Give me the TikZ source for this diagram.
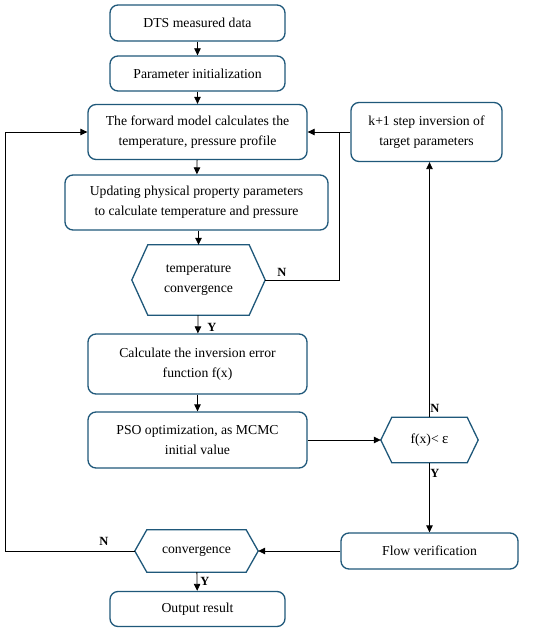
\documentclass[tikz,border=0pt]{standalone}
\usepackage{fontspec}
\setmainfont{Liberation Serif}
\usetikzlibrary{arrows.meta,calc}
\definecolor{boxblue}{RGB}{31,88,122}
\tikzset{
  box/.style={draw=boxblue, line width=1.3pt, rounded corners=8pt, fill=white,
    align=center, inner sep=0pt, font=\fontsize{13.7}{20}\selectfont},
  hexnode/.style={inner sep=0pt, align=center, font=\fontsize{13.7}{20}\selectfont},
  hexline/.style={draw=boxblue, line width=1.3pt, line join=miter},
  arr/.style={line width=0.8pt, -{Triangle[length=7pt,width=6.5pt]}},
  ln/.style={line width=0.8pt},
  lab/.style={font=\fontsize{12.5}{14}\selectfont\bfseries, inner sep=0pt},
}
\newcommand{\hexdraw}[2]{%
  \draw[hexline] (#1.west) -- ($(#1.north west)+(#2,0)$) -- ($(#1.north east)+(-#2,0)$)
    -- (#1.east) -- ($(#1.south east)+(-#2,0)$) -- ($(#1.south west)+(#2,0)$) -- cycle;}
\begin{document}
\begin{tikzpicture}[x=1pt,y=-1pt]
\useasboundingbox[fill=white] (0,0) rectangle (550,631);
% nodes
\node[box, minimum width=175pt, minimum height=36pt] (b1) at (197.5,23) {DTS measured data};
\node[box, minimum width=175pt, minimum height=35pt] (b2) at (197.5,73.5) {Parameter initialization};
\node[box, minimum width=219pt, minimum height=55pt] (b3) at (197.5,132) {The forward model calculates the\\temperature, pressure profile};
\node[box, minimum width=151pt, minimum height=59pt] (bk) at (426.5,132) {k+1 step inversion of\\target parameters};
\node[box, minimum width=263pt, minimum height=55pt] (b4) at (196.5,202.5) {Updating physical property parameters\\to calculate temperature and pressure};
\node[hexnode, minimum width=133pt, minimum height=70pt] (h1) at (198.5,280) {temperature\\convergence};
\node[box, minimum width=219pt, minimum height=60pt] (b5) at (197.5,364) {Calculate the inversion error\\function f(x)};
\node[box, minimum width=219pt, minimum height=56pt] (b6) at (197.5,440) {PSO optimization, as MCMC\\initial value};
\node[hexnode, minimum width=97pt, minimum height=45pt] (h2) at (429.5,440) {f(x)< {\fontsize{15}{20}\selectfont ε}};
\node[box, minimum width=177pt, minimum height=36pt] (b7) at (429.5,551) {Flow verification};
\node[hexnode, minimum width=123pt, minimum height=42pt] (h3) at (196.5,551) {convergence};
\node[box, minimum width=175pt, minimum height=35pt] (b8) at (197.5,609) {Output result};
\hexdraw{h1}{16}
\hexdraw{h2}{11}
\hexdraw{h3}{12}
% helper coordinates
\coordinate (J) at (339,132);
\coordinate (L) at (5,551);
% connectors
\draw[arr] (b1) -- (b2);
\draw[arr] (b2) -- (b3);
\draw[arr] (b3) -- (b4);
\draw[arr] (b4.south -| h1.north) -- (h1.north);
\draw[arr] (h1) -- (b5);
\draw[arr] (b5) -- (b6);
\draw[arr] (b6.east) -- (h2.west);
\draw[arr] (h2.north) -- (bk.south -| h2.north);
\draw[arr] (h2.south) -- (b7.north);
\draw[arr] (b7.west) -- (h3.east);
\draw[arr] (h3) -- (b8);
\draw[arr] (bk.west) -- (b3.east);
\draw[ln] (h1.east) -| (J);
\draw[arr] (h3.west) -- (L) |- (b3.west);
% labels
\node[lab] (n1) at (282,272) {N};
\node[lab] (y1) at (212,327) {Y};
\node[lab] (n2) at (435,408) {N};
\node[lab] (y2) at (435,473) {Y};
\node[lab] (n3) at (104,541) {N};
\node[lab] (y3) at (205,581) {Y};
\end{tikzpicture}
\end{document}
